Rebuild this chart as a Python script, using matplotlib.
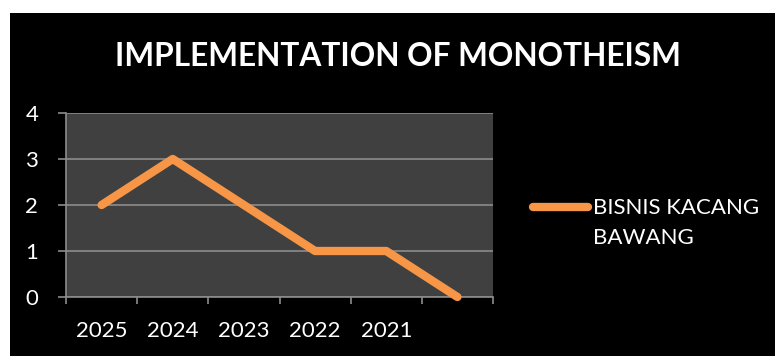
import numpy as np
import matplotlib
matplotlib.use("Agg")
import matplotlib.pyplot as plt
from matplotlib.patches import Rectangle
from matplotlib.lines import Line2D

# chart data
years = ["2025", "2024", "2023", "2022", "2021", ""]
values = [2, 3, 2, 1, 1, 0]
series_name = "BISNIS KACANG\nBAWANG"
title = "IMPLEMENTATION OF MONOTHEISM"

plt.rcParams['font.family'] = ['Lato', 'DejaVu Sans']

W, H = 775, 356
fig = plt.figure(figsize=(W / 100, H / 100), dpi=100)
fig.patch.set_facecolor("white")

# black chart background, with a thin white margin on top and left
fig.patches.append(Rectangle((10 / W, 0), 1 - 10 / W, 1 - 13 / H,
                             transform=fig.transFigure, facecolor="black",
                             edgecolor="none", zorder=-5))

ax = fig.add_axes([66 / W, 59 / H, 427 / W, 184 / H])
ax.set_facecolor("#404040")

x = np.arange(len(years))
orange = "#F79646"
ax.plot(x, values, color=orange, lw=6, solid_capstyle="round",
        solid_joinstyle="round", zorder=3, clip_on=False)

ax.set_xlim(-0.5, len(years) - 0.5)
ax.set_ylim(0, 4)
ax.set_yticks([0, 1, 2, 3, 4])
ax.yaxis.grid(True, color="#8C8C8C", lw=1.2)
ax.set_axisbelow(True)

# boundary ticks are major (no labels), category labels sit on minor ticks
ax.set_xticks(np.arange(len(years) + 1) - 0.5)
ax.set_xticklabels([])
ax.set_xticks(x, minor=True)
ax.set_xticklabels(years, minor=True)
ax.tick_params(axis="x", which="major", length=5, width=1.2, color="#8C8C8C", direction="out")
ax.tick_params(axis="x", which="minor", length=0, pad=17, labelsize=16, labelcolor="white")
ax.tick_params(axis="y", length=6, width=1.2, color="#8C8C8C", pad=14,
               labelsize=16, labelcolor="white")

for side in ["top", "right"]:
    ax.spines[side].set_visible(False)
for side in ["left", "bottom"]:
    ax.spines[side].set_color("#8C8C8C")
    ax.spines[side].set_linewidth(1.2)

fig.text(398 / W, 1 - 56 / H, title, color="white", fontsize=22.8,
         fontweight="bold", ha="center", va="center")

# legend drawn by hand so the swatch lines up with the first text line
fig.lines.append(Line2D([533 / W, 588 / W], [1 - 207 / H] * 2,
                        transform=fig.transFigure, color=orange, lw=6,
                        solid_capstyle="round"))
fig.text(593 / W, 1 - 198 / H, series_name, color="white", fontsize=16,
         ha="left", va="top", linespacing=1.6)

fig.savefig("out.png", dpi=100, facecolor=fig.get_facecolor())
